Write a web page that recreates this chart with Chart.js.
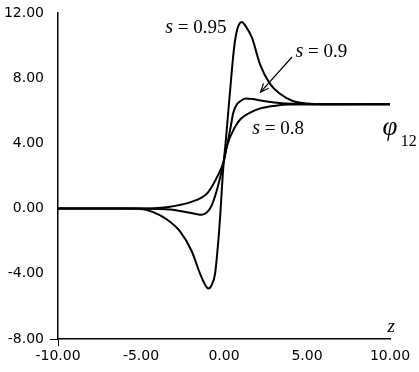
<!DOCTYPE html>
<html>
<head>
<meta charset="utf-8">
<script src="https://cdn.jsdelivr.net/npm/chart.js@4"></script>
<style>
  html, body { margin: 0; padding: 0; background: #fff; }
  #wrap { width: 419px; height: 372px; }
</style>
</head>
<body>
<div id="wrap"><canvas id="chart" width="419" height="372"></canvas></div>
<script>
// values (z, phi12)
const z95 = [-10, -6, -5, -4.3, -3.45, -2.65, -1.95, -1.45, -1.15, -0.95, -0.75, -0.54, -0.36, -0.22, -0.06, 0.12, 0.25, 0.45, 0.6, 0.8, 1.07, 1.3, 1.68, 2.17, 2.77, 3.37, 4.15, 5, 6, 10];
const phi95 = [0, 0, -0.02, -0.2, -0.66, -1.4, -2.6, -3.98, -4.65, -4.9, -4.7, -4.0, -2.2, -0.3, 2.3, 4.3, 5.85, 8.2, 9.8, 11.0, 11.45, 11.2, 10.5, 8.85, 7.65, 7.05, 6.6, 6.45, 6.4, 6.4];

const z90 = [-10, -5, -4, -3.25, -2.25, -1.7, -1.35, -1.0, -0.74, -0.44, -0.14, 0.05, 0.25, 0.4, 0.55, 0.75, 1.0, 1.3, 1.7, 2.3, 3.2, 4.2, 5.5, 10];
const phi90 = [0, 0, -0.02, -0.06, -0.22, -0.33, -0.38, -0.2, 0.2, 1.1, 2.3, 3.2, 4.2, 5.0, 5.85, 6.35, 6.6, 6.75, 6.72, 6.62, 6.5, 6.43, 6.4, 6.4];

const z80 = [-10, -5, -4, -3.25, -2.25, -1.45, -0.96, -0.36, -0.04, 0.18, 0.66, 1.0, 1.6, 2.2, 3, 4, 10];
const phi80 = [0, 0, 0.04, 0.12, 0.32, 0.62, 1.0, 2.05, 2.83, 3.85, 5.0, 5.5, 5.9, 6.15, 6.3, 6.38, 6.4];

const xTicks = [-10, -5, 0, 5, 10];
const yTicks = [-8, -4, 0, 4, 8, 12];

function pts(xs, ys) {
  return xs.map((x, i) => ({ x: x, y: ys[i] }));
}

function series(xs, ys) {
  return {
    data: pts(xs, ys),
    showLine: true,
    borderColor: "#000",
    borderWidth: 2,
    pointRadius: 0,
    cubicInterpolationMode: "monotone",
    fill: false
  };
}

// labels, arrow and axis names
const notes = {
  id: "notes",
  afterDatasetsDraw(chart) {
    const ctx = chart.ctx;
    const xs = chart.scales.x, ys = chart.scales.y;
    const px = v => xs.getPixelForValue(v);
    const py = v => ys.getPixelForValue(v);

    ctx.save();
    ctx.fillStyle = "#000";
    ctx.strokeStyle = "#000";
    ctx.textBaseline = "middle";

    function label(txt, x, y, align) {
      ctx.font = "italic 20px 'Liberation Serif'";
      const sw = ctx.measureText("s").width;
      ctx.font = "19px 'Liberation Serif'";
      const rw = ctx.measureText(txt).width;
      const left = align === "right" ? x - sw - rw : x;
      ctx.textAlign = "left";
      ctx.font = "italic 20px 'Liberation Serif'";
      ctx.fillText("s", left, y);
      ctx.font = "19px 'Liberation Serif'";
      ctx.fillText(txt, left + sw, y);
    }

    label(" = 0.95", px(0.15), py(11.1), "right");
    label(" = 0.9", px(4.3), py(9.6));
    label(" = 0.8", px(1.7), py(4.9));

    // arrow towards s = 0.9 curve
    const x1 = px(4.1), y1 = py(9.3), x2 = px(2.2), y2 = py(7.15);
    ctx.lineWidth = 1.2;
    ctx.beginPath();
    ctx.moveTo(x1, y1);
    ctx.lineTo(x2, y2);
    ctx.stroke();
    const a = Math.atan2(y2 - y1, x2 - x1);
    ctx.beginPath();
    ctx.moveTo(x2 - 9 * Math.cos(a - 0.4), y2 - 9 * Math.sin(a - 0.4));
    ctx.lineTo(x2, y2);
    ctx.lineTo(x2 - 9 * Math.cos(a + 0.4), y2 - 9 * Math.sin(a + 0.4));
    ctx.stroke();

    // phi_12
    ctx.textAlign = "left";
    ctx.font = "italic 27px 'Liberation Serif'";
    ctx.fillText("\u03C6", px(9.55), py(4.95));
    ctx.font = "16px 'Liberation Serif'";
    ctx.fillText("12", px(10.65), py(4.1));

    // z
    ctx.font = "italic 19px 'Liberation Serif'";
    ctx.fillText("z", px(9.85), py(-7.25));
    ctx.restore();
  }
};

new Chart(document.getElementById("chart"), {
  type: "scatter",
  data: {
    datasets: [series(z95, phi95), series(z90, phi90), series(z80, phi80)]
  },
  options: {
    responsive: false,
    animation: false,
    layout: { padding: { top: 6, right: 29, left: 0, bottom: 0 } },
    plugins: { legend: { display: false }, tooltip: { enabled: false } },
    scales: {
      x: {
        type: "linear",
        min: -10,
        max: 10,
        afterBuildTicks: s => { s.ticks = xTicks.map(v => ({ value: v })); },
        afterFit: s => { s.height = 33; },
        border: { display: true, color: "#000", width: 1.5 },
        grid: {
          drawOnChartArea: false,
          tickLength: 7,
          color: c => (c.index === 0 ? "#000" : "rgba(0,0,0,0)")
        },
        ticks: {
          color: "#000",
          padding: 3,
          maxRotation: 0,
          font: { family: "DejaVu Sans", size: 14, lineHeight: 1 },
          callback: v => v.toFixed(2)
        }
      },
      y: {
        type: "linear",
        min: -8,
        max: 12,
        afterBuildTicks: s => { s.ticks = yTicks.map(v => ({ value: v })); },
        afterFit: s => { s.width = 58; },
        border: { display: true, color: "#000", width: 1.5 },
        grid: {
          drawOnChartArea: false,
          tickLength: 8,
          color: c => (c.index === 0 ? "#000" : "rgba(0,0,0,0)")
        },
        ticks: {
          color: "#000",
          padding: 6,
          font: { family: "DejaVu Sans", size: 14, lineHeight: 1 },
          callback: v => v.toFixed(2)
        }
      }
    }
  },
  plugins: [notes]
});
</script>
</body>
</html>
